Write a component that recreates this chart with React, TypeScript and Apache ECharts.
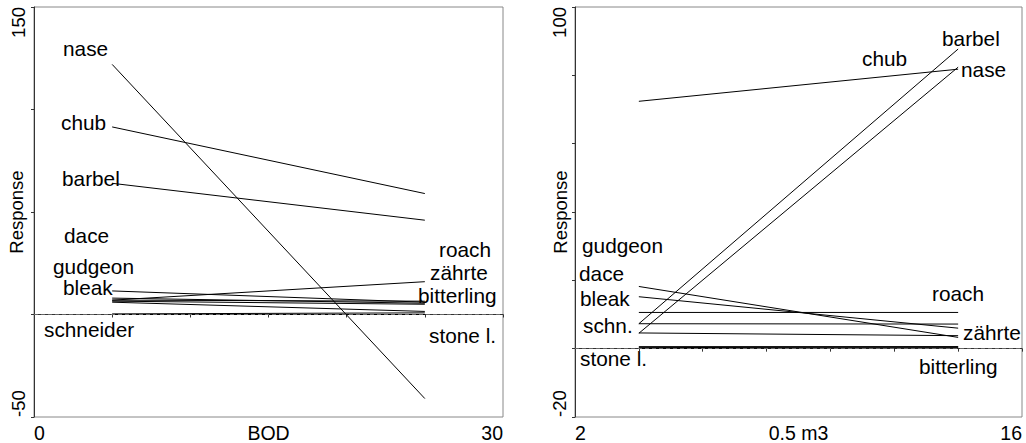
import React, { useEffect, useRef } from "react";
import * as echarts from "echarts";

// ---- Left panel data (BOD) ----
const leftX = [5, 25];
const leftSpecies = ["nase", "chub", "barbel", "dace", "gudgeon", "bleak", "roach", "zährte", "bitterling", "schneider", "stone l."];
const leftStart = [122, 91.5, 64, 7, 8, 11.5, 7, 6.5, 6, 0, 0.3];
const leftEnd = [-41, 59, 46, 6.5, 5.5, 6, 16, 5, 1.5, 0, 0.8];
const leftXTicks = { min: 0, max: 30, interval: 5 };
const leftYTicks = { min: -50, max: 150, interval: 50 };

// ---- Right panel data (0.5 m3) ----
const rightX = [4, 14];
const rightSpecies = ["chub", "barbel", "nase", "dace", "bleak", "roach", "schn.", "gudgeon", "zährte", "bitterling", "stone l."];
const rightStart = [72.4, 7.3, 4.5, 18.2, 15.2, 10.6, 7.3, 4.6, 0.6, 0.3, 0.1];
const rightEnd = [81.8, 87.7, 82.4, 3.3, 6.0, 10.6, 7.2, 3.8, 0.6, 0.5, 0.3];
const rightXTicks = { min: 2, max: 16, interval: 2 };
const rightYTicks = { min: -20, max: 100, interval: 20 };

// ---- Species label texts and their placement (layout only) ----
const leftLabels = ["nase", "chub", "barbel", "dace", "gudgeon", "bleak", "schneider", "roach", "zährte", "bitterling", "stone l."];
const leftLabelPos = [
  [63, 48], [61, 122], [62, 178], [64, 235], [53, 266], [63, 287], [44, 329],
  [439, 249], [430, 272], [418, 295], [429, 335],
];
const rightLabels = ["barbel", "chub", "nase", "gudgeon", "dace", "bleak", "schn.", "stone l.", "roach", "zährte", "bitterling"];
const rightLabelPos = [
  [942, 38], [862, 58], [961, 69], [582, 245], [579, 273], [580, 298], [583, 325], [580, 358],
  [932, 293], [963, 332], [919, 366],
];

const FONT = "'Liberation Sans', Arial, Helvetica, sans-serif";

function endsOnly(min: number, max: number) {
  return (v: number) => (v === min || v === max ? String(v) : "");
}

export default function App() {
  const ref = useRef<HTMLDivElement>(null);
  useEffect(() => {
    if (!ref.current) return;
    const chart = echarts.init(ref.current, null, { renderer: "svg" });

    const axisLine = { show: true, lineStyle: { color: "#333", width: 1 } };
    const axisTick = { show: true, length: 3, lineStyle: { color: "#333" } };

    const xAxis = (grid: number, t: any, name: string) => ({
      gridIndex: grid,
      type: "value",
      min: t.min,
      max: t.max,
      interval: t.interval,
      name,
      nameLocation: "middle",
      nameGap: 6,
      nameMoveOverlap: false,
      nameTextStyle: { fontSize: 19.5, color: "#000", fontFamily: FONT, verticalAlign: "top" },
      axisLine,
      axisTick,
      splitLine: { show: false },
      axisLabel: {
        formatter: endsOnly(t.min, t.max),
        fontSize: 19.5,
        color: "#000",
        fontFamily: FONT,
        margin: 6,
        alignMinLabel: "left",
        alignMaxLabel: "right",
      },
    });
    const yAxis = (grid: number, t: any, gap: number) => ({
      gridIndex: grid,
      type: "value",
      min: t.min,
      max: t.max,
      interval: t.interval,
      name: "Response",
      nameLocation: "middle",
      nameRotate: 90,
      nameGap: gap,
      nameMoveOverlap: false,
      nameTextStyle: { fontSize: 18.5, color: "#000", fontFamily: FONT },
      axisLine,
      axisTick,
      splitLine: { show: false },
      axisLabel: {
        formatter: endsOnly(t.min, t.max),
        rotate: 90,
        fontSize: 18.5,
        color: "#000",
        fontFamily: FONT,
        margin: 6,
        alignMinLabel: "left",
        alignMaxLabel: "right",
      },
    });

    const dashed = {
      silent: true,
      symbol: ["none", "none"],
      label: { show: false },
      lineStyle: { type: [4, 3], color: "#666", width: 1 },
      data: [{ yAxis: 0 }],
    };

    const series: any[] = [];
    leftSpecies.forEach((s, i) => {
      series.push({
        name: "L " + s,
        type: "line",
        xAxisIndex: 0,
        yAxisIndex: 0,
        symbol: "none",
        data: [[leftX[0], leftStart[i]], [leftX[1], leftEnd[i]]],
        lineStyle: { color: "#000", width: 1 },
        markLine: i === 0 ? dashed : undefined,
      });
    });
    rightSpecies.forEach((s, i) => {
      series.push({
        name: "R " + s,
        type: "line",
        xAxisIndex: 1,
        yAxisIndex: 1,
        symbol: "none",
        data: [[rightX[0], rightStart[i]], [rightX[1], rightEnd[i]]],
        lineStyle: { color: "#000", width: 1 },
        markLine: i === 0 ? dashed : undefined,
      });
    });

    const graphic: any[] = [];
    leftLabels.forEach((t, i) => {
      graphic.push({
        type: "text",
        x: leftLabelPos[i][0],
        y: leftLabelPos[i][1],
        silent: true,
        style: { text: t, fill: "#000", font: `20.8px ${FONT}`, textAlign: "left", textVerticalAlign: "middle" },
      });
    });
    rightLabels.forEach((t, i) => {
      graphic.push({
        type: "text",
        x: rightLabelPos[i][0],
        y: rightLabelPos[i][1],
        silent: true,
        style: { text: t, fill: "#000", font: `20.8px ${FONT}`, textAlign: "left", textVerticalAlign: "middle" },
      });
    });

    chart.setOption({
      animation: false,
      backgroundColor: "#fff",
      color: ["#000"],
      grid: [
        { left: 34, right: 523, top: 7, bottom: 26, show: true, borderColor: "#888", borderWidth: 1, containLabel: false, outerBoundsMode: "none" },
        { left: 575, right: 4, top: 7, bottom: 26, show: true, borderColor: "#888", borderWidth: 1, containLabel: false, outerBoundsMode: "none" },
      ],
      xAxis: [xAxis(0, leftXTicks, "BOD"), xAxis(1, rightXTicks, "0.5 m3")],
      yAxis: [yAxis(0, leftYTicks, 8), yAxis(1, rightYTicks, 5)],
      series,
      graphic,
    });
    return () => chart.dispose();
  }, []);
  return <div ref={ref} style={{ position: "absolute", left: 0, top: 0, width: 1026, height: 443 }} />;
}
